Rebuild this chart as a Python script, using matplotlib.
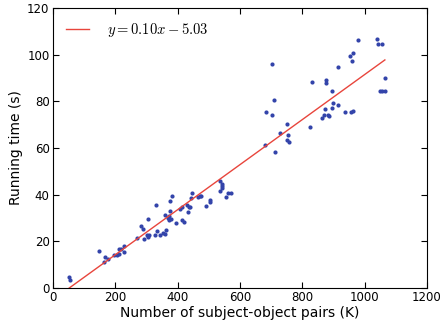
import numpy as np
import matplotlib
matplotlib.use("Agg")
import matplotlib.pyplot as plt

plt.rcParams['mathtext.fontset'] = 'cm'

# subject-object pairs (K) and running time (s)
pairs = [52, 53, 149, 165, 167, 178, 197, 206, 211, 212, 217, 227, 229, 268,
         281, 290, 292, 301, 304, 304, 307, 328, 330, 333, 343, 354, 359, 360,
         363, 368, 371, 373, 375, 376, 378, 383, 395, 409, 413, 415, 419, 431,
         433, 437, 441, 442, 445, 466, 471, 476, 490, 505, 505, 536, 537, 541,
         541, 543, 555, 563, 571, 680, 682, 702, 703, 709, 711, 727, 750, 752,
         753, 758, 825, 832, 864, 869, 872, 876, 876, 881, 886, 894, 895, 897,
         916, 916, 938, 953, 956, 960, 962, 964, 980, 1039, 1044, 1049, 1055,
         1055, 1065, 1065]
times = [4.6, 3.4, 15.7, 11.3, 13.4, 12.4, 14.0, 14.3, 16.8, 14.6, 16.6, 18.1,
         15.3, 21.3, 26.4, 25.4, 21.1, 22.6, 29.6, 22.0, 22.9, 22.9, 35.7, 24.4,
         22.7, 23.4, 23.3, 31.3, 25.0, 30.0, 29.3, 31.0, 33.0, 37.2, 29.6, 39.3,
         27.9, 34.0, 34.6, 29.3, 28.3, 35.6, 32.4, 34.7, 34.6, 38.7, 40.7, 38.9,
         39.3, 39.6, 35.0, 37.7, 37.0, 46.0, 41.7, 44.4, 43.0, 43.7, 39.0, 40.8,
         40.8, 61.4, 75.4, 74.3, 96.1, 80.7, 58.1, 66.4, 63.4, 70.3, 65.7, 62.6,
         68.9, 88.4, 73.0, 74.0, 76.7, 89.3, 87.9, 74.1, 73.8, 84.4, 77.0, 79.4,
         94.9, 78.3, 75.3, 99.3, 75.4, 97.2, 75.9, 100.6, 106.2, 106.9, 104.7,
         84.4, 104.4, 84.4, 90.0, 84.4]

slope = 0.0965
intercept = -5.03
fit_label = r'$y=0.10x-5.03$'

fig = plt.figure(figsize=(4.48, 3.25), dpi=100)
ax = fig.add_axes([0.1183, 0.1138, 0.8347, 0.8616])

ax.plot(pairs, times, 'o', color='#3344aa', markersize=3, markeredgewidth=0)
xs = np.array([min(pairs), max(pairs)])
ax.plot(xs, slope * xs + intercept, '-', color='#e8453c', linewidth=1,
        label=fit_label)

ax.set_xlim(0, 1200)
ax.set_ylim(0, 120)
ax.set_xticks(range(0, 1201, 200))
ax.set_yticks(range(0, 121, 20))
ax.tick_params(direction='in', top=True, right=True, labelsize=8.5, length=4,
               pad=2.5)
ax.set_xlabel('Number of subject-object pairs (K)', fontsize=10, labelpad=1)
ax.set_ylabel('Running time (s)', fontsize=10, labelpad=3)
ax.legend(loc='upper left', frameon=False, fontsize=10.5, handlelength=1.6,
          handletextpad=1.2, borderaxespad=0.5)

fig.savefig('out.png', dpi=100)
